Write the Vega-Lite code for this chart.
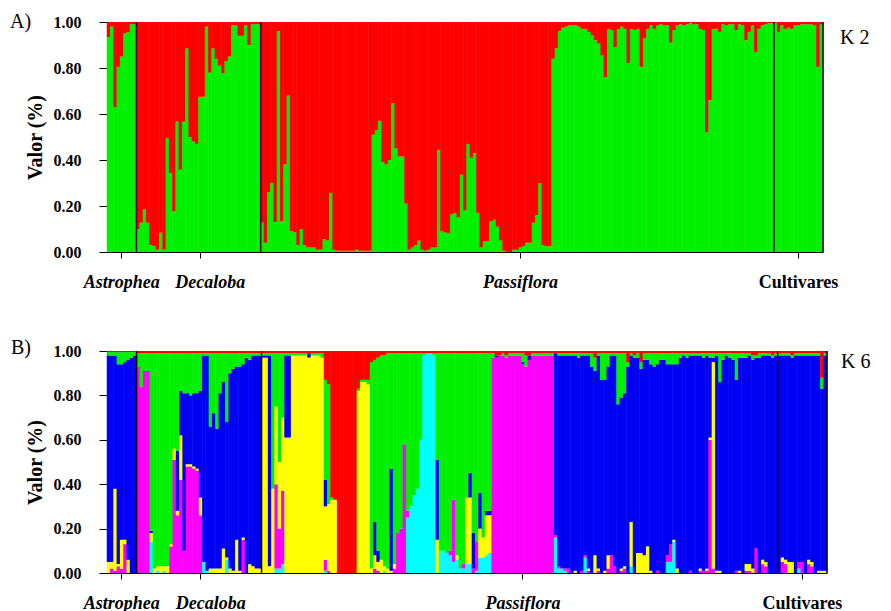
{
"$schema":"https://vega.github.io/schema/vega-lite/v6.json",
"background":"white",
"padding":{"left":10,"top":12,"right":5,"bottom":5},
"config":{"view":{"stroke":null},"axis":{"grid":false,"domainColor":"black","tickColor":"black","labelColor":"black","titleColor":"black","labelFont":"Liberation Serif","titleFont":"Liberation Serif"},"text":{"font":"Liberation Serif"}},
"resolve":{"scale":{"color":"independent"}},
"spacing":47,
"datasets":{
"k2":[
{"i":0,"a1":0.935,"a2":0.065},{"i":1,"a1":0.98,"a2":0.02},{"i":2,"a1":0.63,"a2":0.37},{"i":3,"a1":0.805,"a2":0.195},{"i":4,"a1":0.85,"a2":0.15},{"i":5,"a1":0.95,"a2":0.05},{"i":6,"a1":0.955,"a2":0.045},{"i":7,"a1":0.99,"a2":0.01},{"i":8,"a1":0.99,"a2":0.01},
{"i":9,"a1":0.1,"a2":0.9},{"i":10,"a1":0.127,"a2":0.873},{"i":11,"a1":0.185,"a2":0.815},{"i":12,"a1":0.127,"a2":0.873},{"i":13,"a1":0.03,"a2":0.97},{"i":14,"a1":0.026,"a2":0.974},{"i":15,"a1":0.01,"a2":0.99},{"i":16,"a1":0.084,"a2":0.916},{"i":17,"a1":0.01,"a2":0.99},{"i":18,"a1":0.495,"a2":0.505},{"i":19,"a1":0.343,"a2":0.657},{"i":20,"a1":0.177,"a2":0.823},{"i":21,"a1":0.567,"a2":0.433},{"i":22,"a1":0.358,"a2":0.642},{"i":23,"a1":0.567,"a2":0.433},{"i":24,"a1":0.885,"a2":0.115},{"i":25,"a1":0.5,"a2":0.5},{"i":26,"a1":0.48,"a2":0.52},{"i":27,"a1":0.47,"a2":0.53},{"i":28,"a1":0.675,"a2":0.325},{"i":29,"a1":0.675,"a2":0.325},{"i":30,"a1":0.98,"a2":0.02},{"i":31,"a1":0.78,"a2":0.22},{"i":32,"a1":0.885,"a2":0.115},{"i":33,"a1":0.84,"a2":0.16},{"i":34,"a1":0.81,"a2":0.19},{"i":35,"a1":0.776,"a2":0.224},{"i":36,"a1":0.83,"a2":0.17},{"i":37,"a1":0.85,"a2":0.15},{"i":38,"a1":0.985,"a2":0.015},{"i":39,"a1":0.985,"a2":0.015},{"i":40,"a1":0.94,"a2":0.06},{"i":41,"a1":0.94,"a2":0.06},{"i":42,"a1":0.985,"a2":0.015},{"i":43,"a1":0.9,"a2":0.1},{"i":44,"a1":0.99,"a2":0.01},{"i":45,"a1":0.99,"a2":0.01},{"i":46,"a1":0.99,"a2":0.01},
{"i":47,"a1":0.127,"a2":0.873},{"i":48,"a1":0.04,"a2":0.96},{"i":49,"a1":0.26,"a2":0.74},{"i":50,"a1":0.3,"a2":0.7},{"i":51,"a1":0.13,"a2":0.87},{"i":52,"a1":0.96,"a2":0.04},{"i":53,"a1":0.134,"a2":0.866},{"i":54,"a1":0.38,"a2":0.62},{"i":55,"a1":0.68,"a2":0.32},{"i":56,"a1":0.09,"a2":0.91},{"i":57,"a1":0.085,"a2":0.915},{"i":58,"a1":0.03,"a2":0.97},{"i":59,"a1":0.1,"a2":0.9},{"i":60,"a1":0.03,"a2":0.97},{"i":61,"a1":0.02,"a2":0.98},{"i":62,"a1":0.02,"a2":0.98},{"i":63,"a1":0.02,"a2":0.98},{"i":64,"a1":0.01,"a2":0.99},{"i":65,"a1":0.01,"a2":0.99},{"i":66,"a1":0.055,"a2":0.945},{"i":67,"a1":0.05,"a2":0.95},{"i":68,"a1":0.257,"a2":0.743},{"i":69,"a1":0.01,"a2":0.99},{"i":70,"a1":0.005,"a2":0.995},{"i":71,"a1":0.005,"a2":0.995},{"i":72,"a1":0.005,"a2":0.995},{"i":73,"a1":0.005,"a2":0.995},{"i":74,"a1":0.005,"a2":0.995},{"i":75,"a1":0.005,"a2":0.995},{"i":76,"a1":0.01,"a2":0.99},{"i":77,"a1":0.005,"a2":0.995},{"i":78,"a1":0.005,"a2":0.995},{"i":79,"a1":0.005,"a2":0.995},{"i":80,"a1":0.005,"a2":0.995},{"i":81,"a1":0.51,"a2":0.49},{"i":82,"a1":0.53,"a2":0.47},{"i":83,"a1":0.57,"a2":0.43},{"i":84,"a1":0.39,"a2":0.61},{"i":85,"a1":0.38,"a2":0.62},{"i":86,"a1":0.4,"a2":0.6},{"i":87,"a1":0.646,"a2":0.354},{"i":88,"a1":0.45,"a2":0.55},{"i":89,"a1":0.415,"a2":0.585},{"i":90,"a1":0.415,"a2":0.585},{"i":91,"a1":0.21,"a2":0.79},{"i":92,"a1":0.01,"a2":0.99},{"i":93,"a1":0.02,"a2":0.98},{"i":94,"a1":0.03,"a2":0.97},{"i":95,"a1":0.05,"a2":0.95},{"i":96,"a1":0.01,"a2":0.99},{"i":97,"a1":0.005,"a2":0.995},{"i":98,"a1":0.01,"a2":0.99},{"i":99,"a1":0.02,"a2":0.98},{"i":100,"a1":0.02,"a2":0.98},{"i":101,"a1":0.444,"a2":0.556},{"i":102,"a1":0.09,"a2":0.91},{"i":103,"a1":0.085,"a2":0.915},{"i":104,"a1":0.08,"a2":0.92},{"i":105,"a1":0.163,"a2":0.837},{"i":106,"a1":0.17,"a2":0.83},{"i":107,"a1":0.15,"a2":0.85},{"i":108,"a1":0.336,"a2":0.664},{"i":109,"a1":0.18,"a2":0.82},{"i":110,"a1":0.47,"a2":0.53},{"i":111,"a1":0.41,"a2":0.59},{"i":112,"a1":0.43,"a2":0.57},{"i":113,"a1":0.17,"a2":0.83},{"i":114,"a1":0.02,"a2":0.98},{"i":115,"a1":0.048,"a2":0.952},{"i":116,"a1":0.048,"a2":0.952},{"i":117,"a1":0.134,"a2":0.866},{"i":118,"a1":0.14,"a2":0.86},{"i":119,"a1":0.11,"a2":0.89},{"i":120,"a1":0.05,"a2":0.95},{"i":121,"a1":0.005,"a2":0.995},{"i":122,"a1":0,"a2":1},{"i":123,"a1":0,"a2":1},{"i":124,"a1":0.01,"a2":0.99},{"i":125,"a1":0.01,"a2":0.99},{"i":126,"a1":0.02,"a2":0.98},{"i":127,"a1":0.026,"a2":0.974},{"i":128,"a1":0.04,"a2":0.96},{"i":129,"a1":0.04,"a2":0.96},{"i":130,"a1":0.127,"a2":0.873},{"i":131,"a1":0.16,"a2":0.84},{"i":132,"a1":0.3,"a2":0.7},{"i":133,"a1":0.03,"a2":0.97},{"i":134,"a1":0.025,"a2":0.975},{"i":135,"a1":0.025,"a2":0.975},{"i":136,"a1":0.84,"a2":0.16},{"i":137,"a1":0.885,"a2":0.115},{"i":138,"a1":0.96,"a2":0.04},{"i":139,"a1":0.975,"a2":0.025},{"i":140,"a1":0.98,"a2":0.02},{"i":141,"a1":0.985,"a2":0.015},{"i":142,"a1":0.985,"a2":0.015},{"i":143,"a1":0.985,"a2":0.015},{"i":144,"a1":0.98,"a2":0.02},{"i":145,"a1":0.97,"a2":0.03},{"i":146,"a1":0.97,"a2":0.03},{"i":147,"a1":0.957,"a2":0.043},{"i":148,"a1":0.943,"a2":0.057},{"i":149,"a1":0.92,"a2":0.08},{"i":150,"a1":0.906,"a2":0.094},{"i":151,"a1":0.855,"a2":0.145},{"i":152,"a1":0.76,"a2":0.24},{"i":153,"a1":0.97,"a2":0.03},{"i":154,"a1":0.965,"a2":0.035},{"i":155,"a1":0.89,"a2":0.11},{"i":156,"a1":0.97,"a2":0.03},{"i":157,"a1":0.98,"a2":0.02},{"i":158,"a1":0.97,"a2":0.03},{"i":159,"a1":0.82,"a2":0.18},{"i":160,"a1":0.97,"a2":0.03},{"i":161,"a1":0.965,"a2":0.035},{"i":162,"a1":0.97,"a2":0.03},{"i":163,"a1":0.805,"a2":0.195},{"i":164,"a1":0.93,"a2":0.07},{"i":165,"a1":0.97,"a2":0.03},{"i":166,"a1":0.985,"a2":0.015},{"i":167,"a1":0.97,"a2":0.03},{"i":168,"a1":0.985,"a2":0.015},{"i":169,"a1":0.99,"a2":0.01},{"i":170,"a1":0.985,"a2":0.015},{"i":171,"a1":0.985,"a2":0.015},{"i":172,"a1":0.91,"a2":0.09},{"i":173,"a1":0.965,"a2":0.035},{"i":174,"a1":0.985,"a2":0.015},{"i":175,"a1":0.99,"a2":0.01},{"i":176,"a1":0.985,"a2":0.015},{"i":177,"a1":0.99,"a2":0.01},{"i":178,"a1":0.995,"a2":0.005},{"i":179,"a1":0.99,"a2":0.01},{"i":180,"a1":0.99,"a2":0.01},{"i":181,"a1":0.97,"a2":0.03},{"i":182,"a1":0.965,"a2":0.035},{"i":183,"a1":0.52,"a2":0.48},{"i":184,"a1":0.66,"a2":0.34},{"i":185,"a1":0.97,"a2":0.03},{"i":186,"a1":0.97,"a2":0.03},{"i":187,"a1":0.957,"a2":0.043},{"i":188,"a1":0.99,"a2":0.01},{"i":189,"a1":0.985,"a2":0.015},{"i":190,"a1":0.99,"a2":0.01},{"i":191,"a1":0.99,"a2":0.01},{"i":192,"a1":0.965,"a2":0.035},{"i":193,"a1":0.99,"a2":0.01},{"i":194,"a1":0.985,"a2":0.015},{"i":195,"a1":0.92,"a2":0.08},{"i":196,"a1":0.957,"a2":0.043},{"i":197,"a1":0.985,"a2":0.015},{"i":198,"a1":0.87,"a2":0.13},{"i":199,"a1":0.97,"a2":0.03},{"i":200,"a1":0.985,"a2":0.015},{"i":201,"a1":0.99,"a2":0.01},{"i":202,"a1":0.995,"a2":0.005},{"i":203,"a1":0.995,"a2":0.005},
{"i":204,"a1":0.995,"a2":0.005},{"i":205,"a1":0.957,"a2":0.043},{"i":206,"a1":0.985,"a2":0.015},{"i":207,"a1":0.97,"a2":0.03},{"i":208,"a1":0.975,"a2":0.025},{"i":209,"a1":0.97,"a2":0.03},{"i":210,"a1":0.985,"a2":0.015},{"i":211,"a1":0.985,"a2":0.015},{"i":212,"a1":0.99,"a2":0.01},{"i":213,"a1":0.99,"a2":0.01},{"i":214,"a1":0.99,"a2":0.01},{"i":215,"a1":0.99,"a2":0.01},{"i":216,"a1":0.985,"a2":0.015},{"i":217,"a1":0.805,"a2":0.195},{"i":218,"a1":0.99,"a2":0.01}
],
"k6":[
{"i":0,"c1":0,"c2":0,"c3":0.05,"c4":0.93,"c5":0.015,"c6":0.005},
{"i":1,"c1":0,"c2":0.02,"c3":0.03,"c4":0.93,"c5":0.015,"c6":0.005},
{"i":2,"c1":0,"c2":0.01,"c3":0.37,"c4":0.6,"c5":0.015,"c6":0.005},
{"i":3,"c1":0,"c2":0.03,"c3":0.01,"c4":0.9,"c5":0.055,"c6":0.005},
{"i":4,"c1":0,"c2":0.02,"c3":0.13,"c4":0.79,"c5":0.055,"c6":0.005},
{"i":5,"c1":0,"c2":0.13,"c3":0.02,"c4":0.8,"c5":0.045,"c6":0.005},
{"i":6,"c1":0,"c2":0,"c3":0.06,"c4":0.9,"c5":0.035,"c6":0.005},
{"i":7,"c1":0,"c2":0,"c3":0,"c4":0.97,"c5":0.025,"c6":0.005},
{"i":8,"c1":0,"c2":0,"c3":0,"c4":0.98,"c5":0.015,"c6":0.005},
{"i":9,"c1":0,"c2":0.93,"c3":0,"c4":0,"c5":0.06,"c6":0.01},
{"i":10,"c1":0,"c2":0.84,"c3":0,"c4":0,"c5":0.15,"c6":0.01},
{"i":11,"c1":0,"c2":0.91,"c3":0,"c4":0,"c5":0.08,"c6":0.01},
{"i":12,"c1":0,"c2":0.91,"c3":0,"c4":0,"c5":0.08,"c6":0.01},
{"i":13,"c1":0.14,"c2":0,"c3":0.04,"c4":0.01,"c5":0.8,"c6":0.01},
{"i":14,"c1":0,"c2":0,"c3":0.02,"c4":0,"c5":0.97,"c6":0.01},
{"i":15,"c1":0.01,"c2":0,"c3":0.02,"c4":0,"c5":0.96,"c6":0.01},
{"i":16,"c1":0,"c2":0,"c3":0.03,"c4":0,"c5":0.96,"c6":0.01},
{"i":17,"c1":0.01,"c2":0,"c3":0.02,"c4":0,"c5":0.96,"c6":0.01},
{"i":18,"c1":0,"c2":0,"c3":0.03,"c4":0,"c5":0.96,"c6":0.01},
{"i":19,"c1":0,"c2":0.12,"c3":0.01,"c4":0,"c5":0.86,"c6":0.01},
{"i":20,"c1":0,"c2":0.51,"c3":0.05,"c4":0,"c5":0.43,"c6":0.01},
{"i":21,"c1":0,"c2":0.26,"c3":0.02,"c4":0.27,"c5":0.44,"c6":0.01},
{"i":22,"c1":0,"c2":0.42,"c3":0.2,"c4":0.2,"c5":0.17,"c6":0.01},
{"i":23,"c1":0,"c2":0.1,"c3":0,"c4":0.71,"c5":0.18,"c6":0.01},
{"i":24,"c1":0,"c2":0.48,"c3":0.01,"c4":0.32,"c5":0.18,"c6":0.01},
{"i":25,"c1":0,"c2":0.48,"c3":0.01,"c4":0.31,"c5":0.19,"c6":0.01},
{"i":26,"c1":0,"c2":0.47,"c3":0.01,"c4":0.33,"c5":0.18,"c6":0.01},
{"i":27,"c1":0,"c2":0.46,"c3":0.01,"c4":0.34,"c5":0.18,"c6":0.01},
{"i":28,"c1":0,"c2":0.26,"c3":0.08,"c4":0.48,"c5":0.17,"c6":0.01},
{"i":29,"c1":0.05,"c2":0,"c3":0,"c4":0.93,"c5":0.01,"c6":0.01},
{"i":30,"c1":0.01,"c2":0,"c3":0,"c4":0.97,"c5":0.01,"c6":0.01},
{"i":31,"c1":0,"c2":0,"c3":0.02,"c4":0.64,"c5":0.33,"c6":0.01},
{"i":32,"c1":0,"c2":0,"c3":0.02,"c4":0.7,"c5":0.27,"c6":0.01},
{"i":33,"c1":0,"c2":0,"c3":0.02,"c4":0.63,"c5":0.34,"c6":0.01},
{"i":34,"c1":0,"c2":0,"c3":0.02,"c4":0.79,"c5":0.18,"c6":0.01},
{"i":35,"c1":0,"c2":0,"c3":0.11,"c4":0.75,"c5":0.13,"c6":0.01},
{"i":36,"c1":0.06,"c2":0,"c3":0.01,"c4":0.61,"c5":0.31,"c6":0.01},
{"i":37,"c1":0,"c2":0,"c3":0.02,"c4":0.88,"c5":0.09,"c6":0.01},
{"i":38,"c1":0,"c2":0,"c3":0.01,"c4":0.91,"c5":0.07,"c6":0.01},
{"i":39,"c1":0,"c2":0,"c3":0.15,"c4":0.78,"c5":0.06,"c6":0.01},
{"i":40,"c1":0,"c2":0,"c3":0.01,"c4":0.92,"c5":0.06,"c6":0.01},
{"i":41,"c1":0,"c2":0.15,"c3":0.01,"c4":0.78,"c5":0.05,"c6":0.01},
{"i":42,"c1":0,"c2":0,"c3":0,"c4":0.97,"c5":0.02,"c6":0.01},
{"i":43,"c1":0,"c2":0,"c3":0.04,"c4":0.92,"c5":0.03,"c6":0.01},
{"i":44,"c1":0,"c2":0,"c3":0.03,"c4":0.95,"c5":0.01,"c6":0.01},
{"i":45,"c1":0,"c2":0,"c3":0.02,"c4":0.96,"c5":0.01,"c6":0.01},
{"i":46,"c1":0,"c2":0,"c3":0.02,"c4":0.96,"c5":0.01,"c6":0.01},
{"i":47,"c1":0,"c2":0,"c3":0.97,"c4":0.01,"c5":0.01,"c6":0.01},
{"i":48,"c1":0,"c2":0,"c3":0.97,"c4":0.01,"c5":0.01,"c6":0.01},
{"i":49,"c1":0,"c2":0,"c3":0.03,"c4":0.95,"c5":0.01,"c6":0.01},
{"i":50,"c1":0,"c2":0,"c3":0.38,"c4":0,"c5":0.61,"c6":0.01},
{"i":51,"c1":0.02,"c2":0.38,"c3":0.35,"c4":0,"c5":0.24,"c6":0.01},
{"i":52,"c1":0.02,"c2":0.18,"c3":0.3,"c4":0,"c5":0.49,"c6":0.01},
{"i":53,"c1":0.04,"c2":0.33,"c3":0.33,"c4":0,"c5":0.29,"c6":0.01},
{"i":54,"c1":0,"c2":0,"c3":0.61,"c4":0.37,"c5":0.01,"c6":0.01},
{"i":55,"c1":0,"c2":0,"c3":0.61,"c4":0.37,"c5":0.01,"c6":0.01},
{"i":56,"c1":0,"c2":0,"c3":0.98,"c4":0,"c5":0.01,"c6":0.01},
{"i":57,"c1":0,"c2":0,"c3":0.98,"c4":0,"c5":0.01,"c6":0.01},
{"i":58,"c1":0,"c2":0,"c3":0.98,"c4":0,"c5":0.01,"c6":0.01},
{"i":59,"c1":0,"c2":0,"c3":0.98,"c4":0,"c5":0.01,"c6":0.01},
{"i":60,"c1":0,"c2":0,"c3":0.98,"c4":0,"c5":0.01,"c6":0.01},
{"i":61,"c1":0,"c2":0,"c3":0.97,"c4":0.02,"c5":0,"c6":0.01},
{"i":62,"c1":0,"c2":0,"c3":0.98,"c4":0,"c5":0.01,"c6":0.01},
{"i":63,"c1":0,"c2":0,"c3":0.98,"c4":0,"c5":0.01,"c6":0.01},
{"i":64,"c1":0,"c2":0,"c3":0.98,"c4":0,"c5":0.01,"c6":0.01},
{"i":65,"c1":0,"c2":0,"c3":0.97,"c4":0,"c5":0.02,"c6":0.01},
{"i":66,"c1":0.01,"c2":0.05,"c3":0.24,"c4":0.12,"c5":0.45,"c6":0.13},
{"i":67,"c1":0,"c2":0.01,"c3":0.3,"c4":0,"c5":0.54,"c6":0.15},
{"i":68,"c1":0,"c2":0,"c3":0.33,"c4":0,"c5":0.01,"c6":0.66},
{"i":69,"c1":0,"c2":0,"c3":0.33,"c4":0,"c5":0,"c6":0.67},
{"i":70,"c1":0,"c2":0,"c3":0,"c4":0,"c5":0,"c6":1},
{"i":71,"c1":0,"c2":0,"c3":0,"c4":0,"c5":0,"c6":1},
{"i":72,"c1":0,"c2":0,"c3":0,"c4":0,"c5":0,"c6":1},
{"i":73,"c1":0,"c2":0,"c3":0,"c4":0,"c5":0,"c6":1},
{"i":74,"c1":0,"c2":0,"c3":0,"c4":0,"c5":0,"c6":1},
{"i":75,"c1":0,"c2":0,"c3":0,"c4":0,"c5":0,"c6":1},
{"i":76,"c1":0,"c2":0,"c3":0.82,"c4":0,"c5":0.01,"c6":0.17},
{"i":77,"c1":0,"c2":0,"c3":0.86,"c4":0,"c5":0.01,"c6":0.13},
{"i":78,"c1":0,"c2":0,"c3":0.86,"c4":0,"c5":0.01,"c6":0.13},
{"i":79,"c1":0,"c2":0,"c3":0.85,"c4":0,"c5":0.02,"c6":0.13},
{"i":80,"c1":0,"c2":0,"c3":0.02,"c4":0,"c5":0.93,"c6":0.05},
{"i":81,"c1":0,"c2":0.02,"c3":0.06,"c4":0.15,"c5":0.73,"c6":0.04},
{"i":82,"c1":0,"c2":0.01,"c3":0.04,"c4":0.05,"c5":0.87,"c6":0.03},
{"i":83,"c1":0,"c2":0,"c3":0.06,"c4":0,"c5":0.92,"c6":0.02},
{"i":84,"c1":0.01,"c2":0,"c3":0.02,"c4":0,"c5":0.95,"c6":0.02},
{"i":85,"c1":0,"c2":0,"c3":0.02,"c4":0,"c5":0.97,"c6":0.01},
{"i":86,"c1":0,"c2":0,"c3":0.01,"c4":0.46,"c5":0.52,"c6":0.01},
{"i":87,"c1":0,"c2":0.02,"c3":0.02,"c4":0,"c5":0.95,"c6":0.01},
{"i":88,"c1":0,"c2":0.18,"c3":0,"c4":0,"c5":0.81,"c6":0.01},
{"i":89,"c1":0,"c2":0.2,"c3":0,"c4":0,"c5":0.79,"c6":0.01},
{"i":90,"c1":0,"c2":0.58,"c3":0,"c4":0,"c5":0.41,"c6":0.01},
{"i":91,"c1":0.25,"c2":0.03,"c3":0,"c4":0,"c5":0.71,"c6":0.01},
{"i":92,"c1":0.3,"c2":0,"c3":0,"c4":0,"c5":0.69,"c6":0.01},
{"i":93,"c1":0.35,"c2":0,"c3":0,"c4":0,"c5":0.64,"c6":0.01},
{"i":94,"c1":0.38,"c2":0,"c3":0,"c4":0,"c5":0.61,"c6":0.01},
{"i":95,"c1":0.6,"c2":0,"c3":0,"c4":0,"c5":0.39,"c6":0.01},
{"i":96,"c1":0.98,"c2":0,"c3":0,"c4":0,"c5":0.01,"c6":0.01},
{"i":97,"c1":0.99,"c2":0,"c3":0,"c4":0,"c5":0,"c6":0.01},
{"i":98,"c1":0.99,"c2":0,"c3":0,"c4":0,"c5":0,"c6":0.01},
{"i":99,"c1":0.98,"c2":0,"c3":0,"c4":0,"c5":0.01,"c6":0.01},
{"i":100,"c1":0,"c2":0,"c3":0.15,"c4":0.36,"c5":0.48,"c6":0.01},
{"i":101,"c1":0.1,"c2":0,"c3":0,"c4":0,"c5":0.89,"c6":0.01},
{"i":102,"c1":0.1,"c2":0,"c3":0,"c4":0,"c5":0.89,"c6":0.01},
{"i":103,"c1":0.09,"c2":0,"c3":0,"c4":0,"c5":0.9,"c6":0.01},
{"i":104,"c1":0.08,"c2":0.02,"c3":0,"c4":0,"c5":0.89,"c6":0.01},
{"i":105,"c1":0.05,"c2":0.28,"c3":0,"c4":0,"c5":0.66,"c6":0.01},
{"i":106,"c1":0.06,"c2":0,"c3":0.02,"c4":0,"c5":0.91,"c6":0.01},
{"i":107,"c1":0.02,"c2":0,"c3":0,"c4":0,"c5":0.97,"c6":0.01},
{"i":108,"c1":0.02,"c2":0.02,"c3":0,"c4":0,"c5":0.95,"c6":0.01},
{"i":109,"c1":0.04,"c2":0,"c3":0.3,"c4":0,"c5":0.65,"c6":0.01},
{"i":110,"c1":0.04,"c2":0,"c3":0.3,"c4":0.11,"c5":0.54,"c6":0.01},
{"i":111,"c1":0,"c2":0.02,"c3":0,"c4":0.16,"c5":0.81,"c6":0.01},
{"i":112,"c1":0.01,"c2":0.13,"c3":0,"c4":0,"c5":0.85,"c6":0.01},
{"i":113,"c1":0.07,"c2":0,"c3":0.13,"c4":0.16,"c5":0.63,"c6":0.01},
{"i":114,"c1":0.07,"c2":0,"c3":0.09,"c4":0,"c5":0.83,"c6":0.01},
{"i":115,"c1":0.08,"c2":0,"c3":0.18,"c4":0.02,"c5":0.71,"c6":0.01},
{"i":116,"c1":0.09,"c2":0,"c3":0.17,"c4":0.02,"c5":0.71,"c6":0.01},
{"i":117,"c1":0,"c2":0.97,"c3":0,"c4":0,"c5":0.02,"c6":0.01},
{"i":118,"c1":0,"c2":0.97,"c3":0,"c4":0.01,"c5":0,"c6":0.02},
{"i":119,"c1":0,"c2":0.98,"c3":0,"c4":0,"c5":0,"c6":0.02},
{"i":120,"c1":0,"c2":0.98,"c3":0,"c4":0,"c5":0.01,"c6":0.01},
{"i":121,"c1":0,"c2":0.97,"c3":0,"c4":0,"c5":0.01,"c6":0.02},
{"i":122,"c1":0,"c2":0.98,"c3":0,"c4":0,"c5":0.01,"c6":0.01},
{"i":123,"c1":0,"c2":0.98,"c3":0,"c4":0,"c5":0.01,"c6":0.01},
{"i":124,"c1":0,"c2":0.98,"c3":0,"c4":0,"c5":0.01,"c6":0.01},
{"i":125,"c1":0,"c2":0.98,"c3":0,"c4":0,"c5":0.01,"c6":0.01},
{"i":126,"c1":0,"c2":0.94,"c3":0,"c4":0.01,"c5":0.04,"c6":0.01},
{"i":127,"c1":0,"c2":0.93,"c3":0,"c4":0,"c5":0.05,"c6":0.02},
{"i":128,"c1":0,"c2":0.96,"c3":0,"c4":0.02,"c5":0,"c6":0.02},
{"i":129,"c1":0,"c2":0.98,"c3":0,"c4":0,"c5":0.01,"c6":0.01},
{"i":130,"c1":0,"c2":0.98,"c3":0,"c4":0,"c5":0.01,"c6":0.01},
{"i":131,"c1":0,"c2":0.98,"c3":0,"c4":0,"c5":0.01,"c6":0.01},
{"i":132,"c1":0,"c2":0.98,"c3":0,"c4":0,"c5":0.01,"c6":0.01},
{"i":133,"c1":0,"c2":0.98,"c3":0,"c4":0,"c5":0.01,"c6":0.01},
{"i":134,"c1":0,"c2":0.98,"c3":0,"c4":0,"c5":0.01,"c6":0.01},
{"i":135,"c1":0,"c2":0.98,"c3":0,"c4":0,"c5":0.01,"c6":0.01},
{"i":136,"c1":0.16,"c2":0.01,"c3":0,"c4":0.82,"c5":0,"c6":0.01},
{"i":137,"c1":0.02,"c2":0.01,"c3":0,"c4":0.95,"c5":0.01,"c6":0.01},
{"i":138,"c1":0.02,"c2":0,"c3":0,"c4":0.96,"c5":0.01,"c6":0.01},
{"i":139,"c1":0.01,"c2":0.01,"c3":0,"c4":0.96,"c5":0.01,"c6":0.01},
{"i":140,"c1":0,"c2":0.02,"c3":0,"c4":0.96,"c5":0.01,"c6":0.01},
{"i":141,"c1":0,"c2":0,"c3":0,"c4":0.98,"c5":0.01,"c6":0.01},
{"i":142,"c1":0,"c2":0,"c3":0.01,"c4":0.97,"c5":0.01,"c6":0.01},
{"i":143,"c1":0,"c2":0,"c3":0,"c4":0.97,"c5":0.02,"c6":0.01},
{"i":144,"c1":0,"c2":0.01,"c3":0,"c4":0.97,"c5":0.01,"c6":0.01},
{"i":145,"c1":0.07,"c2":0.01,"c3":0,"c4":0.9,"c5":0.01,"c6":0.01},
{"i":146,"c1":0,"c2":0.01,"c3":0.01,"c4":0.96,"c5":0.01,"c6":0.01},
{"i":147,"c1":0,"c2":0,"c3":0,"c4":0.93,"c5":0.06,"c6":0.01},
{"i":148,"c1":0,"c2":0,"c3":0.08,"c4":0.83,"c5":0.06,"c6":0.03},
{"i":149,"c1":0,"c2":0.01,"c3":0.01,"c4":0.96,"c5":0.01,"c6":0.01},
{"i":150,"c1":0,"c2":0,"c3":0,"c4":0.87,"c5":0.12,"c6":0.01},
{"i":151,"c1":0,"c2":0,"c3":0.01,"c4":0.86,"c5":0.12,"c6":0.01},
{"i":152,"c1":0,"c2":0.02,"c3":0.06,"c4":0.85,"c5":0.06,"c6":0.01},
{"i":153,"c1":0,"c2":0.08,"c3":0,"c4":0.9,"c5":0.01,"c6":0.01},
{"i":154,"c1":0,"c2":0.03,"c3":0,"c4":0.95,"c5":0.01,"c6":0.01},
{"i":155,"c1":0,"c2":0,"c3":0,"c4":0.76,"c5":0.23,"c6":0.01},
{"i":156,"c1":0,"c2":0.01,"c3":0.01,"c4":0.77,"c5":0.2,"c6":0.01},
{"i":157,"c1":0,"c2":0.02,"c3":0.01,"c4":0.78,"c5":0.18,"c6":0.01},
{"i":158,"c1":0,"c2":0,"c3":0,"c4":0.93,"c5":0.02,"c6":0.05},
{"i":159,"c1":0.03,"c2":0,"c3":0.2,"c4":0.75,"c5":0.01,"c6":0.01},
{"i":160,"c1":0,"c2":0,"c3":0,"c4":0.97,"c5":0.01,"c6":0.02},
{"i":161,"c1":0,"c2":0,"c3":0.09,"c4":0.88,"c5":0.02,"c6":0.01},
{"i":162,"c1":0,"c2":0,"c3":0.09,"c4":0.83,"c5":0.03,"c6":0.05},
{"i":163,"c1":0,"c2":0,"c3":0.08,"c4":0.88,"c5":0.03,"c6":0.01},
{"i":164,"c1":0,"c2":0,"c3":0.12,"c4":0.84,"c5":0.03,"c6":0.01},
{"i":165,"c1":0,"c2":0,"c3":0.01,"c4":0.93,"c5":0.05,"c6":0.01},
{"i":166,"c1":0,"c2":0,"c3":0,"c4":0.93,"c5":0.06,"c6":0.01},
{"i":167,"c1":0,"c2":0.01,"c3":0,"c4":0.93,"c5":0.05,"c6":0.01},
{"i":168,"c1":0,"c2":0,"c3":0,"c4":0.96,"c5":0.03,"c6":0.01},
{"i":169,"c1":0,"c2":0,"c3":0,"c4":0.96,"c5":0.03,"c6":0.01},
{"i":170,"c1":0.05,"c2":0.03,"c3":0,"c4":0.86,"c5":0.05,"c6":0.01},
{"i":171,"c1":0.05,"c2":0.08,"c3":0,"c4":0.81,"c5":0.05,"c6":0.01},
{"i":172,"c1":0.14,"c2":0,"c3":0.01,"c4":0.79,"c5":0.05,"c6":0.01},
{"i":173,"c1":0,"c2":0,"c3":0.02,"c4":0.92,"c5":0.05,"c6":0.01},
{"i":174,"c1":0,"c2":0,"c3":0,"c4":0.97,"c5":0.02,"c6":0.01},
{"i":175,"c1":0,"c2":0,"c3":0,"c4":0.98,"c5":0.01,"c6":0.01},
{"i":176,"c1":0,"c2":0,"c3":0,"c4":0.97,"c5":0.02,"c6":0.01},
{"i":177,"c1":0,"c2":0.01,"c3":0,"c4":0.97,"c5":0.01,"c6":0.01},
{"i":178,"c1":0,"c2":0,"c3":0,"c4":0.98,"c5":0.01,"c6":0.01},
{"i":179,"c1":0,"c2":0,"c3":0,"c4":0.98,"c5":0.01,"c6":0.01},
{"i":180,"c1":0,"c2":0.01,"c3":0.01,"c4":0.96,"c5":0.01,"c6":0.01},
{"i":181,"c1":0,"c2":0.01,"c3":0,"c4":0.96,"c5":0.02,"c6":0.01},
{"i":182,"c1":0,"c2":0.01,"c3":0.01,"c4":0.96,"c5":0.01,"c6":0.01},
{"i":183,"c1":0,"c2":0.6,"c3":0.01,"c4":0.36,"c5":0.02,"c6":0.01},
{"i":184,"c1":0,"c2":0.02,"c3":0.93,"c4":0.02,"c5":0.02,"c6":0.01},
{"i":185,"c1":0,"c2":0,"c3":0.01,"c4":0.97,"c5":0.01,"c6":0.01},
{"i":186,"c1":0,"c2":0,"c3":0.01,"c4":0.85,"c5":0.13,"c6":0.01},
{"i":187,"c1":0,"c2":0,"c3":0,"c4":0.96,"c5":0.03,"c6":0.01},
{"i":188,"c1":0,"c2":0,"c3":0,"c4":0.98,"c5":0.01,"c6":0.01},
{"i":189,"c1":0,"c2":0,"c3":0,"c4":0.97,"c5":0.02,"c6":0.01},
{"i":190,"c1":0,"c2":0,"c3":0,"c4":0.96,"c5":0.03,"c6":0.01},
{"i":191,"c1":0,"c2":0.01,"c3":0,"c4":0.86,"c5":0.12,"c6":0.01},
{"i":192,"c1":0,"c2":0,"c3":0.01,"c4":0.96,"c5":0.02,"c6":0.01},
{"i":193,"c1":0,"c2":0,"c3":0,"c4":0.97,"c5":0.02,"c6":0.01},
{"i":194,"c1":0,"c2":0.01,"c3":0.03,"c4":0.93,"c5":0.02,"c6":0.01},
{"i":195,"c1":0,"c2":0.01,"c3":0.03,"c4":0.94,"c5":0.01,"c6":0.01},
{"i":196,"c1":0,"c2":0,"c3":0.02,"c4":0.94,"c5":0.02,"c6":0.02},
{"i":197,"c1":0,"c2":0.11,"c3":0,"c4":0.86,"c5":0.01,"c6":0.02},
{"i":198,"c1":0,"c2":0,"c3":0,"c4":0.97,"c5":0.02,"c6":0.01},
{"i":199,"c1":0,"c2":0.04,"c3":0.02,"c4":0.92,"c5":0.01,"c6":0.01},
{"i":200,"c1":0,"c2":0.03,"c3":0.02,"c4":0.93,"c5":0.01,"c6":0.01},
{"i":201,"c1":0,"c2":0,"c3":0,"c4":0.98,"c5":0.01,"c6":0.01},
{"i":202,"c1":0,"c2":0,"c3":0,"c4":0.97,"c5":0.01,"c6":0.02},
{"i":203,"c1":0,"c2":0,"c3":0,"c4":0.98,"c5":0.01,"c6":0.01},
{"i":204,"c1":0,"c2":0,"c3":0,"c4":0.98,"c5":0.01,"c6":0.01},
{"i":205,"c1":0,"c2":0.05,"c3":0.02,"c4":0.91,"c5":0.01,"c6":0.01},
{"i":206,"c1":0,"c2":0.04,"c3":0.02,"c4":0.92,"c5":0.01,"c6":0.01},
{"i":207,"c1":0,"c2":0,"c3":0.05,"c4":0.93,"c5":0.01,"c6":0.01},
{"i":208,"c1":0,"c2":0,"c3":0.05,"c4":0.92,"c5":0.01,"c6":0.02},
{"i":209,"c1":0,"c2":0,"c3":0,"c4":0.98,"c5":0.01,"c6":0.01},
{"i":210,"c1":0.02,"c2":0.03,"c3":0,"c4":0.93,"c5":0.01,"c6":0.01},
{"i":211,"c1":0,"c2":0.05,"c3":0,"c4":0.93,"c5":0.01,"c6":0.01},
{"i":212,"c1":0,"c2":0,"c3":0,"c4":0.98,"c5":0.01,"c6":0.01},
{"i":213,"c1":0,"c2":0.04,"c3":0.02,"c4":0.92,"c5":0.01,"c6":0.01},
{"i":214,"c1":0,"c2":0.03,"c3":0.02,"c4":0.93,"c5":0.01,"c6":0.01},
{"i":215,"c1":0,"c2":0,"c3":0,"c4":0.98,"c5":0.01,"c6":0.01},
{"i":216,"c1":0,"c2":0,"c3":0.01,"c4":0.97,"c5":0.01,"c6":0.01},
{"i":217,"c1":0,"c2":0,"c3":0.01,"c4":0.82,"c5":0.05,"c6":0.12},
{"i":218,"c1":0,"c2":0,"c3":0.01,"c4":0.97,"c5":0.01,"c6":0.01}
],
"sep":[{"i":9},{"i":47},{"i":204}],
"edge":[{"i":218}]
},
"vconcat":[
{
"width":716,"height":230,
"layer":[
{"data":{"name":"k2"},"transform":[{"fold":["a1","a2"],"as":["k","v"]}],
"mark":{"type":"bar","width":{"band":1.15}},
"encoding":{
"x":{"field":"i","type":"ordinal","scale":{"paddingInner":0,"paddingOuter":0},
"axis":{"values":[4,28,126,211],"labelExpr":"datum.value == 4 ? 'Astrophea' : datum.value == 28 ? 'Decaloba' : datum.value == 126 ? 'Passiflora' : 'Cultivares'","title":null,"labelAngle":0,"labelFontSize":18,"labelFontWeight":"bold","labelFontStyle":{"condition":{"test":"datum.value == 211","value":"normal"},"value":"italic"},"labelOffset":{"condition":{"test":"datum.value == 28","value":10},"value":0},"tickSize":6,"labelPadding":15}},
"y":{"field":"v","type":"quantitative","stack":"normalize","scale":{"domain":[0,1],"nice":false},
"axis":{"values":[0,0.2,0.4,0.6,0.8,1],"format":".2f","labelExpr":"format(datum.value, '.2f')","title":"Valor (%)","titleFontSize":20,"titleFontWeight":"bold","labelFontSize":16,"labelFontWeight":"bold","tickSize":8,"labelPadding":18,"titlePadding":8}},
"color":{"field":"k","type":"nominal","scale":{"domain":["a1","a2"],"range":["#00f000","#ff0000"]},"legend":null},
"order":{"field":"k","sort":"ascending"}
}},
{"data":{"name":"sep"},"mark":{"type":"rule","color":"black","strokeWidth":1.5},"encoding":{"x":{"field":"i","type":"ordinal","bandPosition":0}}},
{"data":{"name":"edge"},"mark":{"type":"rule","color":"black","strokeWidth":1.5},"encoding":{"x":{"field":"i","type":"ordinal","bandPosition":1}}},
{"data":{"values":[{"i":0,"v":1,"t":"A)"}]},"mark":{"type":"text","align":"left","baseline":"middle","dx":-97,"fontSize":20,"color":"black"},"encoding":{"x":{"field":"i","type":"ordinal","bandPosition":0},"y":{"field":"v","type":"quantitative","axis":{"values":[0,0.2,0.4,0.6,0.8,1],"format":".2f","labelExpr":"format(datum.value, '.2f')","title":"Valor (%)","titleFontSize":20,"titleFontWeight":"bold","labelFontSize":16,"labelFontWeight":"bold","tickSize":8,"labelPadding":18,"titlePadding":8}},"text":{"field":"t"}}},
{"data":{"values":[{"i":218,"v":0.93,"t":"K 2"}]},"mark":{"type":"text","align":"left","baseline":"middle","dx":17,"fontSize":20,"color":"black"},"encoding":{"x":{"field":"i","type":"ordinal","bandPosition":1},"y":{"field":"v","type":"quantitative","axis":{"values":[0,0.2,0.4,0.6,0.8,1],"format":".2f","labelExpr":"format(datum.value, '.2f')","title":"Valor (%)","titleFontSize":20,"titleFontWeight":"bold","labelFontSize":16,"labelFontWeight":"bold","tickSize":8,"labelPadding":18,"titlePadding":8}},"text":{"field":"t"}}}
]
},
{
"width":720,"height":222,
"layer":[
{"data":{"name":"k6"},"transform":[{"fold":["c1","c2","c3","c4","c5","c6"],"as":["k","v"]}],
"mark":{"type":"bar","width":{"band":1.15}},
"encoding":{
"x":{"field":"i","type":"ordinal","scale":{"paddingInner":0,"paddingOuter":0},
"axis":{"values":[4,28,126,211],"labelExpr":"datum.value == 4 ? 'Astrophea' : datum.value == 28 ? 'Decaloba' : datum.value == 126 ? 'Passiflora' : 'Cultivares'","title":null,"labelAngle":0,"labelFontSize":18,"labelFontWeight":"bold","labelFontStyle":{"condition":{"test":"datum.value == 211","value":"normal"},"value":"italic"},"labelOffset":{"condition":{"test":"datum.value == 28","value":10},"value":0},"tickSize":6,"labelPadding":15}},
"y":{"field":"v","type":"quantitative","stack":"normalize","scale":{"domain":[0,1],"nice":false},
"axis":{"values":[0,0.2,0.4,0.6,0.8,1],"format":".2f","labelExpr":"format(datum.value, '.2f')","title":"Valor (%)","titleFontSize":20,"titleFontWeight":"bold","labelFontSize":16,"labelFontWeight":"bold","tickSize":8,"labelPadding":18,"titlePadding":8}},
"color":{"field":"k","type":"nominal","scale":{"domain":["c1","c2","c3","c4","c5","c6"],"range":["#00ffff","#ff00ff","#ffff00","#0000f5","#00f000","#ff0000"]},"legend":null},
"order":{"field":"k","sort":"ascending"}
}},
{"data":{"name":"sep"},"mark":{"type":"rule","color":"black","strokeWidth":1.5},"encoding":{"x":{"field":"i","type":"ordinal","bandPosition":0}}},
{"data":{"name":"edge"},"mark":{"type":"rule","color":"black","strokeWidth":1.5},"encoding":{"x":{"field":"i","type":"ordinal","bandPosition":1}}},
{"data":{"values":[{"i":0,"v":1,"t":"B)"}]},"mark":{"type":"text","align":"left","baseline":"middle","dx":-96,"dy":-3,"fontSize":20,"color":"black"},"encoding":{"x":{"field":"i","type":"ordinal","bandPosition":0},"y":{"field":"v","type":"quantitative","axis":{"values":[0,0.2,0.4,0.6,0.8,1],"format":".2f","labelExpr":"format(datum.value, '.2f')","title":"Valor (%)","titleFontSize":20,"titleFontWeight":"bold","labelFontSize":16,"labelFontWeight":"bold","tickSize":8,"labelPadding":18,"titlePadding":8}},"text":{"field":"t"}}},
{"data":{"values":[{"i":218,"v":0.95,"t":"K 6"}]},"mark":{"type":"text","align":"left","baseline":"middle","dx":14,"fontSize":20,"color":"black"},"encoding":{"x":{"field":"i","type":"ordinal","bandPosition":1},"y":{"field":"v","type":"quantitative","axis":{"values":[0,0.2,0.4,0.6,0.8,1],"format":".2f","labelExpr":"format(datum.value, '.2f')","title":"Valor (%)","titleFontSize":20,"titleFontWeight":"bold","labelFontSize":16,"labelFontWeight":"bold","tickSize":8,"labelPadding":18,"titlePadding":8}},"text":{"field":"t"}}}
]
}
]
}
